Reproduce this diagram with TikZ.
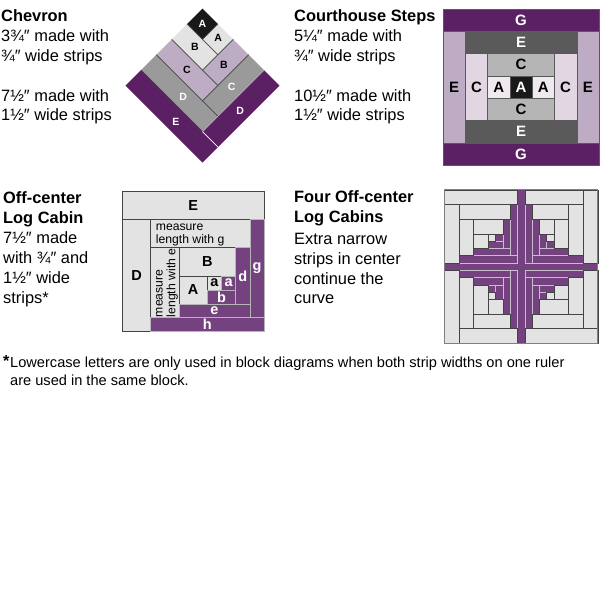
\documentclass[tikz,border=0pt]{standalone}
\usepackage{fontspec}
\setmainfont{Liberation Sans}
\definecolor{plum}{HTML}{5B2063}
\definecolor{grape}{HTML}{74437F}
\definecolor{mauve}{HTML}{BEABC4}
\definecolor{palemauve}{HTML}{E2D6E2}
\definecolor{ash}{HTML}{E3E3E3}
\definecolor{midgray}{HTML}{9A9A9A}
\definecolor{silver}{HTML}{B5B5B5}
\definecolor{slate}{HTML}{5A5A5A}
\definecolor{seam}{HTML}{444444}
\definecolor{paleseam}{HTML}{C9BCCC}
\tikzset{
  titletext/.style = {anchor = base west, inner sep = 0, font = \fontsize{16.4}{19.7}\selectfont\bfseries},
  bodytext/.style = {anchor = base west, inner sep = 0, font = \fontsize{16.4}{19.7}\selectfont},
  foottext/.style = {anchor = base west, inner sep = 0, font = \fontsize{14.6}{17.5}\selectfont},
  chevlabel/.style = {inner sep = 0, font = \fontsize{10.5}{10.5}\selectfont\bfseries},
  courtlabel/.style = {inner sep = 0, font = \fontsize{15}{15}\selectfont\bfseries},
  cabinlabel/.style = {inner sep = 0, font = \fontsize{14.5}{14.5}\selectfont\bfseries},
  measuretext/.style = {inner sep = 0, align = left, font = \fontsize{12.2}{12.6}\selectfont},
  darkseam/.style = {draw = seam, line width = 0.7pt},
  lightseam/.style = {draw = paleseam, line width = 0.6pt}
}
\begin{document}
\begin{tikzpicture}[x = 1pt, y = -1pt]
  \useasboundingbox[fill = white] (0,0) rectangle (600,600);

  \node[titletext] (chevron) at (1,21.7) {Chevron};
  \foreach \i/\y/\txt in {1/41.5/3¾″ made with, 2/61/¾″ wide strips, 3/101/7½″ made with, 4/120.7/1½″ wide strips}
    \node[bodytext] (chevron\i) at (1,\y) {\txt};

  \node[titletext] (courthouse) at (294,21.7) {Courthouse Steps};
  \foreach \i/\y/\txt in {1/41.5/5¼″ made with, 2/61/¾″ wide strips, 3/101/10½″ made with, 4/120.7/1½″ wide strips}
    \node[bodytext] (courthouse\i) at (294,\y) {\txt};

  \node[titletext] (offcenter) at (3,203) {Off-center};
  \node[titletext] (logcabin) at (3,223) {Log Cabin};
  \foreach \i/\y/\txt in {1/243/7½″ made, 2/263/with ¾″ and, 3/283/1½″ wide, 4/303/strips*}
    \node[bodytext] (offcenter\i) at (3,\y) {\txt};

  \node[titletext] (fouroff) at (294,202) {Four Off-center};
  \node[titletext] (logcabins) at (294,222) {Log Cabins};
  \foreach \i/\y/\txt in {1/244/Extra narrow, 2/264/strips in center, 3/284/continue the, 4/303/curve}
    \node[bodytext] (fouroff\i) at (294,\y) {\txt};

  \node[anchor = base west, inner sep = 0, font = \fontsize{16}{16}\selectfont\bfseries] (star) at (3,366) {*};
  \node[foottext] (foot1) at (10,367.7) {Lowercase letters are only used in block diagrams when both strip widths on one ruler};
  \node[foottext] (foot2) at (10,385.2) {are used in the same block.};

  \begin{scope}[shift = {(202.5,8.5)}, rotate = -45, scale = 21.78]
    \foreach \ua/\va/\ub/\vb/\col in {0/0/1/1/black!90, 1/0/2/1/ash, 0/1/2/2/ash, 2/0/3/2/mauve, 0/2/3/3/mauve,
        3/0/4/3/midgray, 0/3/4/4/midgray, 4/0/5/4/plum, 0/4/5/5/plum}
      \fill[\col] (\ua,\va) rectangle (\ub,\vb);
    \foreach \k in {1,2,3} {
      \draw[darkseam] (\k,0) -- (\k,\k);
      \draw[darkseam] (0,\k) -- ({\k+1},\k);
    }
    \draw[lightseam] (4,0) -- (4,4);
    \draw[darkseam] (0,4) -- (4,4);
    \draw[draw = white, line width = 0.7pt] (4,4) -- (5,4);
    \foreach \i/\u/\v/\col/\lab in {1/0.5/0.5/white/A, 2/1.46/0.45/black/A, 3/1/1.5/black/B, 4/2.53/1.14/black/B, 5/1.48/2.5/black/C,
        6/3.5/1.6/white/C, 7/2.24/3.5/white/D, 8/4.54/2.1/white/D, 9/2.81/4.54/white/E}
      \node[chevlabel, text = \col] (chev\i) at (\u,\v) {\lab};
  \end{scope}

  \begin{scope}[shift = {(443,9)}, scale = 22.3]
    \foreach \i/\xa/\ya/\xb/\yb/\col/\txtcol/\lab in {1/0/0/7/1/plum/white/G, 2/0/6/7/7/plum/white/G, 3/0/1/1/6/mauve/black/E, 4/6/1/7/6/mauve/black/E,
        5/1/1/6/2/slate/white/E, 6/1/5/6/6/slate/white/E, 7/1/2/2/5/palemauve/black/C, 8/5/2/6/5/palemauve/black/C,
        9/2/2/5/3/silver/black/C, 10/2/4/5/5/silver/black/C, 11/2/3/3/4/palemauve!50/black/A, 12/3/3/4/4/black!90/white/A, 13/4/3/5/4/palemauve!50/black/A}
      \draw[draw = slate, line width = 0.5pt, fill = \col] (\xa,\ya) rectangle node[courtlabel, text = \txtcol] (court\i) {\lab} (\xb,\yb);
  \end{scope}

  \begin{scope}[shift = {(115,185)}, scale = 0.3333]
    \foreach \i/\xa/\ya/\xb/\yb/\lab in {1/22/18/447/103/E, 2/22/103/107/440/D, 3/192/188/362/273/B, 4/192/273/277/357/A, 5/277/273/320/315/a}
      \draw[darkseam, fill = ash] (\xa,\ya) rectangle node[cabinlabel] (cabin\i) {\lab} (\xb,\yb);
    \draw[darkseam, fill = ash] (107,103) rectangle (405,188);
    \draw[darkseam, fill = ash] (107,188) rectangle (192,398);
    \foreach \i/\xa/\ya/\xb/\yb/\lab in {6/320/273/362/315/a, 7/277/315/362/357/b, 8/362/188/405/357/d, 9/192/357/405/398/e, 10/405/103/447/398/g, 11/107/398/447/440/h}
      \draw[draw = ash!80!black, line width = 0.7pt, fill = grape] (\xa,\ya) rectangle node[cabinlabel, text = white] (cabin\i) {\lab} (\xb,\yb);
    \node[measuretext, anchor = west] (measureg) at (122,150) {measure\\length with g};
    \node[measuretext, anchor = west, rotate = 90] (measuree) at (156,397) {measure\\length with e};
  \end{scope}

  \fill[grape] (517.55,189.7) rectangle (524.85,343.4);
  \fill[grape] (444.7,263.05) rectangle (597.7,270.35);
  \foreach \r in {0,90,180,270} {
    \begin{scope}[shift = {(521.2,266.7)}, rotate = \r, scale = 7.3]
      \foreach \xa/\ya/\xb/\yb in {-3.5/-4.5/-2.5/-3.5, -4.5/-3.5/-2.5/-2.5, -2.5/-6.5/-1.5/-2.5, -6.5/-2.5/-1.5/-1.5, -1.5/-8.5/-0.5/-1.5, -8.5/-1.5/-0.5/-0.5}
        \draw[lightseam, fill = grape] (\xa,\ya) rectangle (\xb,\yb);
      \foreach \xa/\ya/\xb/\yb in {-10.5/-10.5/-0.5/-8.5, -10.5/-8.5/-8.5/-0.5, -8.5/-8.5/-1.5/-6.5, -8.5/-6.5/-6.5/-1.5, -6.5/-6.5/-2.5/-4.5, -6.5/-4.5/-4.5/-2.5, -4.5/-4.5/-3.5/-3.5}
        \draw[darkseam, fill = ash] (\xa,\ya) rectangle (\xb,\yb);
    \end{scope}
  }
  \draw[draw = gray, line width = 0.7pt] (444.7,189.7) rectangle (597.7,343.4);
\end{tikzpicture}
\end{document}
